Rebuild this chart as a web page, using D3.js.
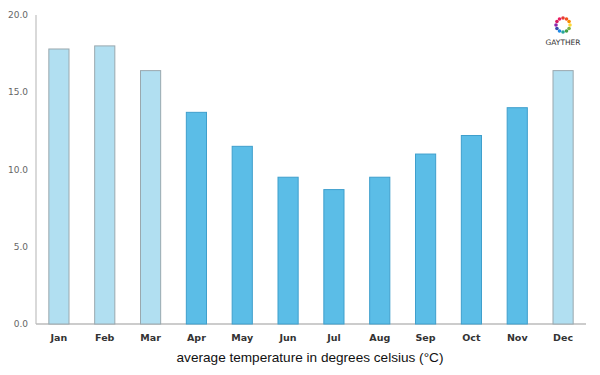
<!DOCTYPE html>
<html>
<head>
<meta charset="utf-8">
<script src="https://cdnjs.cloudflare.com/ajax/libs/d3/7.8.5/d3.min.js"></script>
<style>
body { margin: 0; background: #fff; }
text { font-family: "DejaVu Sans", sans-serif; }
</style>
</head>
<body>
<div id="chart"></div>
<script>
const w = 600;
const h = 375;

const months = ['Jan', 'Feb', 'Mar', 'Apr', 'May', 'Jun', 'Jul', 'Aug', 'Sep', 'Oct', 'Nov', 'Dec'];
const temps = [17.8, 18.0, 16.4, 13.7, 11.5, 9.5, 8.7, 9.5, 11.0, 12.2, 14.0, 16.4];
const winter = ['Jan', 'Feb', 'Mar', 'Dec'];
const yTicks = [0, 5, 10, 15, 20];
const logoColors = ['#e53935', '#f4511e', '#fb8c00', '#fdd835', '#7cb342', '#43a047', '#26a69a', '#1e88e5', '#3949ab', '#8e24aa', '#d81b60', '#e91e63'];

const svg = d3.select('#chart')
    .append('svg')
    .attr('width', w)
    .attr('height', h);

const x = d3.scaleBand()
    .domain(months)
    .range([36, 586])
    .paddingInner(0.56)
    .paddingOuter(0.28);

const y = d3.scaleLinear()
    .domain([0, 20])
    .range([324, 15]);

// axis lines
svg.append('line')
    .attr('x1', 36).attr('x2', 36)
    .attr('y1', y(20)).attr('y2', y(0))
    .attr('stroke', '#ccc').attr('stroke-width', 1.5);

svg.append('line')
    .attr('x1', 36).attr('x2', 586)
    .attr('y1', y(0)).attr('y2', y(0))
    .attr('stroke', '#bbb').attr('stroke-width', 1.5);

// bars
svg.selectAll('rect.bar')
    .data(months)
    .enter()
    .append('rect')
    .attr('class', 'bar')
    .attr('x', d => x(d))
    .attr('width', x.bandwidth())
    .attr('y', (d, i) => y(temps[i]))
    .attr('height', (d, i) => y(0) - y(temps[i]))
    .attr('fill', d => winter.includes(d) ? '#b1dff1' : '#5bbde7')
    .attr('stroke', d => winter.includes(d) ? '#9aa8ae' : '#3f9fcc')
    .attr('stroke-width', 1);

// y tick labels
svg.selectAll('text.ytick')
    .data(yTicks)
    .enter()
    .append('text')
    .attr('class', 'ytick')
    .attr('x', 28)
    .attr('y', d => y(d) + 3)
    .attr('text-anchor', 'end')
    .attr('font-size', 9)
    .attr('fill', '#666')
    .text(d => d.toFixed(1));

// month labels
svg.selectAll('text.month')
    .data(months)
    .enter()
    .append('text')
    .attr('class', 'month')
    .attr('x', d => x(d) + x.bandwidth() / 2)
    .attr('y', 341)
    .attr('text-anchor', 'middle')
    .attr('font-size', 9.5)
    .attr('font-weight', 'bold')
    .attr('fill', '#333')
    .text(d => d);

svg.append('text')
    .attr('x', 310)
    .attr('y', 362)
    .attr('text-anchor', 'middle')
    .style('font-family', '"Liberation Sans", Arial, sans-serif')
    .attr('font-size', 13.6)
    .attr('fill', '#111')
    .text('average temperature in degrees celsius (°C)');

// logo
const logo = svg.append('g').attr('transform', 'translate(563,25)');
logo.selectAll('circle')
    .data(logoColors)
    .enter()
    .append('circle')
    .attr('cx', (d, i) => 7 * Math.cos(i / logoColors.length * 2 * Math.PI - Math.PI / 2))
    .attr('cy', (d, i) => 7 * Math.sin(i / logoColors.length * 2 * Math.PI - Math.PI / 2))
    .attr('r', 1.8)
    .attr('fill', d => d);

svg.append('text')
    .attr('x', 563)
    .attr('y', 45)
    .attr('text-anchor', 'middle')
    .attr('font-size', 7.5)
    .attr('fill', '#333')
    .text('GAYTHER');
</script>
</body>
</html>
